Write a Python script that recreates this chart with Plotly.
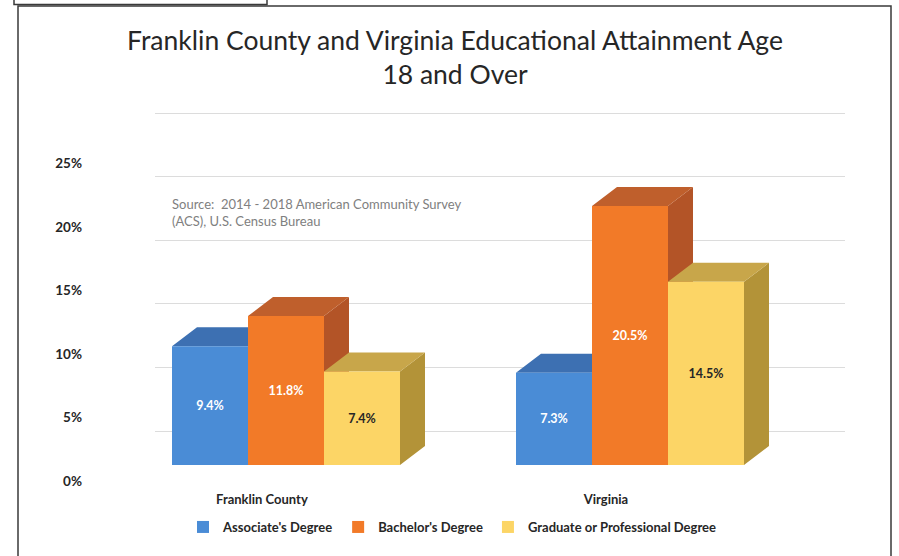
import plotly.graph_objects as go

# ---- data ----
categories = ["Franklin County", "Virginia"]
series_names = ["Associate's Degree", "Bachelor's Degree", "Graduate or Professional Degree"]
associate = [9.4, 7.3]
bachelor = [11.8, 20.5]
graduate = [7.4, 14.5]
y_ticks = [0, 5, 10, 15, 20, 25]
y_tick_text = ["0%", "5%", "10%", "15%", "20%", "25%"]

series_values = [associate, bachelor, graduate]

# ---- styling ----
W, H = 899, 556
FONT = "Lato"
front_colors = ["#4a8cd6", "#f27a28", "#fcd566"]
top_colors = ["#3d70b2", "#bf5f2c", "#c8a64a"]
side_colors = ["#35629e", "#b35427", "#b39338"]
label_colors = ["#ffffff", "#ffffff", "#262626"]

# ---- geometry (pixels) of the pseudo-3D layout ----
px_per_cat = 344.0        # distance between category groups
x0_px = 286.0             # centre of first group (front faces)
front_base_px = 465.0     # 0% on the front plane of the bars
wall_base_px = 431.0      # 0% on the back wall (gridlines)
label_base_px = 481.0     # 0% for the value-axis labels
px_per_pct = 12.63
bar_px = 76.0
depth_px = (25.0, 19.0)   # receding offset of the 3D faces
label_shift = -0.07       # category labels sit slightly left (perspective)

bar_w = bar_px / px_per_cat
dx = depth_px[0] / px_per_cat
dy = depth_px[1] / px_per_pct

x_range = [(0 - x0_px) / px_per_cat, (W - x0_px) / px_per_cat]
y_bar_range = [(front_base_px - H) / px_per_pct, front_base_px / px_per_pct]
y_wall_range = [(wall_base_px - H) / 12.72, wall_base_px / 12.72]
y_lab_range = [(label_base_px - H) / 12.7, label_base_px / 12.7]

fig = go.Figure()

# back-wall gridlines live on their own subplot (x / y)
fig.add_trace(go.Scatter(x=[0.5], y=[0], mode="markers", marker=dict(opacity=0),
                         hoverinfo="skip", showlegend=False, xaxis="x", yaxis="y"))

cat_idx = list(range(len(categories)))

for k, (name, vals) in enumerate(zip(series_names, series_values)):
    off = (k - 1.5) * bar_w
    top_x, top_y, side_x, side_y = [], [], [], []
    for i, v in zip(cat_idx, vals):
        l = i + off
        r = l + bar_w
        top_x += [l, r, r + dx, l + dx, l, None]
        top_y += [v, v, v + dy, v + dy, v, None]
        side_x += [r, r, r + dx, r + dx, r, None]
        side_y += [0, v, v + dy, dy, 0, None]
    fig.add_trace(go.Scatter(x=side_x, y=side_y, mode="lines", fill="toself",
                             fillcolor=side_colors[k], line=dict(width=0, color=side_colors[k]),
                             hoverinfo="skip", showlegend=False, zorder=2 * k,
                             xaxis="x2", yaxis="y2"))
    fig.add_trace(go.Scatter(x=top_x, y=top_y, mode="lines", fill="toself",
                             fillcolor=top_colors[k], line=dict(width=0, color=top_colors[k]),
                             hoverinfo="skip", showlegend=False, zorder=2 * k,
                             xaxis="x2", yaxis="y2"))
    fig.add_trace(go.Bar(
        x=cat_idx, y=vals, name=name, width=bar_w, offset=off,
        marker=dict(color=front_colors[k], line=dict(width=0)),
        text=[f"{v:.1f}%" for v in vals], textposition="inside",
        insidetextanchor="middle", constraintext="none",
        textfont=dict(family=FONT, size=12.5, color=label_colors[k], weight="bold"),
        zorder=2 * k + 1, xaxis="x2", yaxis="y2",
    ))

# value-axis labels
fig.add_trace(go.Scatter(x=[0], y=[0], mode="markers", marker=dict(opacity=0),
                         hoverinfo="skip", showlegend=False, xaxis="x2", yaxis="y3"))

fig.update_layout(
    width=W, height=H,
    margin=dict(l=0, r=0, t=0, b=0, autoexpand=False),
    paper_bgcolor="white", plot_bgcolor="rgba(0,0,0,0)",
    barmode="overlay",
    font=dict(family=FONT, color="#404040"),
    title=dict(text="Franklin County and Virginia Educational Attainment Age<br>18 and Over",
               x=455 / W, xanchor="center", y=1 - 50 / H, yanchor="middle",
               yref="container", font=dict(family=FONT, size=26.5, color="#262626")),
    xaxis=dict(domain=[155 / W, 845 / W], range=[0, 1], visible=False, anchor="y"),
    yaxis=dict(domain=[0, 1], range=y_wall_range, tickvals=y_ticks, showgrid=True,
               gridcolor="#dcdcdc", gridwidth=1, showticklabels=False, zeroline=False,
               showline=False, ticks="", anchor="x"),
    xaxis2=dict(domain=[0, 1], range=x_range, anchor="free", position=(H - 490) / H,
                tickvals=[i + label_shift for i in cat_idx], ticktext=categories,
                showgrid=False, zeroline=False, showline=False, ticks="",
                tickfont=dict(family=FONT, size=13, color="#262626", weight="bold")),
    yaxis2=dict(domain=[0, 1], range=y_bar_range, visible=False, anchor="x2"),
    yaxis3=dict(range=y_lab_range, overlaying="y2", anchor="free", side="left",
                position=82 / W, tickvals=y_ticks, ticktext=y_tick_text,
                showgrid=False, zeroline=False, showline=False, ticks="",
                tickfont=dict(family=FONT, size=13.5, color="#262626", weight="bold")),
    legend=dict(orientation="h", x=183 / W, xanchor="left", y=1 - 527 / H, yanchor="middle",
                font=dict(family=FONT, size=13, color="#262626", weight="bold"),
                bgcolor="rgba(0,0,0,0)", itemwidth=30, traceorder="normal"),
    annotations=[dict(
        text="Source:  2014 - 2018 American Community Survey<br>(ACS), U.S. Census Bureau",
        xref="paper", yref="paper", x=170 / W, y=1 - 212 / H, xanchor="left", yanchor="middle",
        align="left", showarrow=False, font=dict(family=FONT, size=13, color="#808080"))],
    shapes=[
        dict(type="rect", xref="paper", yref="paper", x0=18 / W, x1=891 / W,
             y0=1 - 6 / H, y1=-0.02, line=dict(color="#3a3a3a", width=1.5)),
        dict(type="rect", xref="paper", yref="paper", x0=14 / W, x1=267 / W,
             y0=1 - 4.5 / H, y1=1.02, line=dict(color="#3a3a3a", width=1.5)),
    ],
)

fig.write_html("out.html")
